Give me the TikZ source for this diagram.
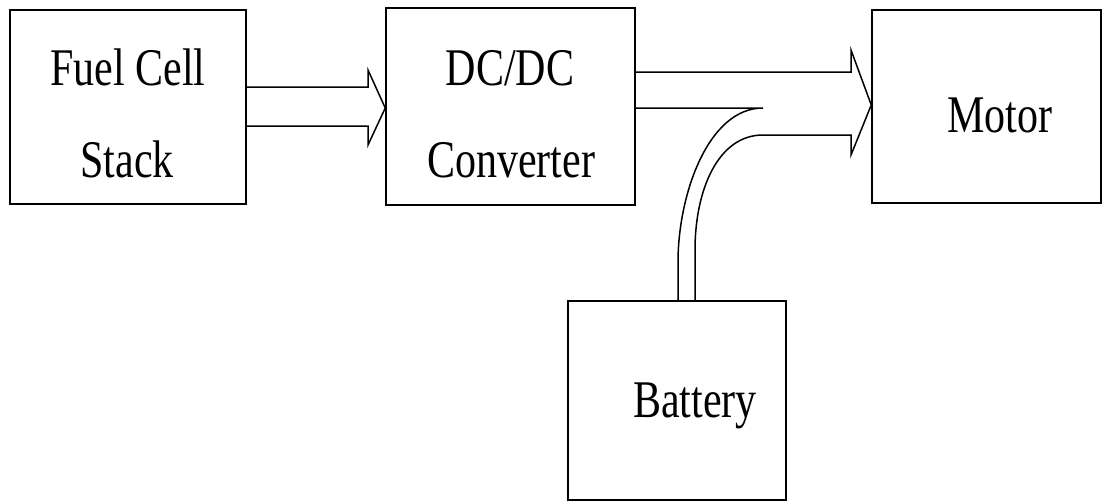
\documentclass[tikz,border=0pt]{standalone}
\usepackage{fontspec}
\usepackage{graphicx}
\setmainfont{Liberation Serif}
\newcommand\vstretch[1]{\scalebox{1}[1.26]{#1}}
\begin{document}
\begin{tikzpicture}[x=1pt,y=-1pt,
  box/.style={draw, line width=1.5pt, inner sep=0pt},
  lbl/.style={font=\fontsize{42}{50}\selectfont, inner sep=0pt, anchor=base},
  flow/.style={draw, line width=1.5pt, line join=miter}]
\useasboundingbox (0,0) rectangle (1105,503);
% boxes
\node[box, minimum width=236pt, minimum height=194pt] (fcs) at (128,107) {};
\node[box, minimum width=249pt, minimum height=197pt] (dcdc) at (510.5,106.5) {};
\node[box, minimum width=229pt, minimum height=193pt] (motor) at (986.5,106.5) {};
\node[box, minimum width=218pt, minimum height=199pt] (bat) at (677,400.5) {};
% labels
\node[lbl] (fcs1) at (128,85) {\vstretch{Fuel Cell}};
\node[lbl] (fcs2) at (127,177) {\vstretch{Stack}};
\node[lbl] (dc1) at (510,85) {\vstretch{DC/DC}};
\node[lbl] (dc2) at (511,177) {\vstretch{Converter}};
\node[lbl] (mot) at (1000,132) {\vstretch{Motor}};
\node[lbl] (batl) at (695,417) {\vstretch{Battery}};
% arrow fuel cell -> dc/dc
\draw[flow] (fcs.east |- 0,87) -- (368,87) -- (368,70) -- (dcdc.west |- 0,108)
  -- (368,145) -- (368,126) -- (fcs.east |- 0,126);
% arrow dc/dc -> motor, with battery branch
\draw[flow] (dcdc.east |- 0,72) -- (851,72) -- (851,50) -- (motor.west |- 0,105)
  -- (851,155) -- (851,135) -- (763,135)
  .. controls (718,135) and (695,190) .. (695,250) -- (bat.north -| 695,0);
\draw[flow] (dcdc.east |- 0,108) -- (763,108)
  .. controls (708,108) and (678,195) .. (678,262) -- (bat.north -| 678,0);
\end{tikzpicture}
\end{document}
